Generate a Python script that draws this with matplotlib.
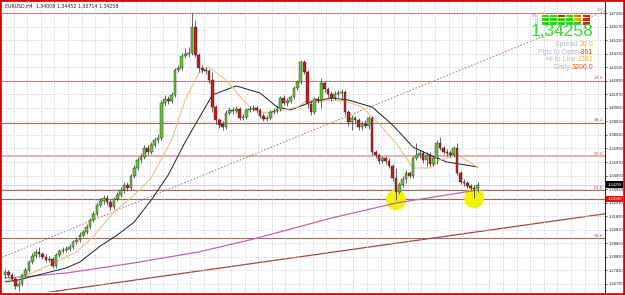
import matplotlib.pyplot as plt
from matplotlib.patches import Rectangle, Ellipse

# EURUSD H4 candles
opens = [1.2746, 1.2769, 1.2746, 1.2716, 1.2663, 1.2678, 1.2746, 1.2784, 1.2844, 1.2889,
         1.2920, 1.2904, 1.2882, 1.2859, 1.2867, 1.2814, 1.2897, 1.2927, 1.2935, 1.2942,
         1.2957, 1.2995, 1.3010, 1.3047, 1.3070, 1.3107, 1.3160, 1.3206, 1.3273, 1.3303,
         1.3326, 1.3296, 1.3258, 1.3319, 1.3349, 1.3386, 1.3424, 1.3402, 1.3492, 1.3552,
         1.3612, 1.3635, 1.3703, 1.3673, 1.3725, 1.3763, 1.3778, 1.4041, 1.4072, 1.4056,
         1.4102, 1.4290, 1.4305, 1.4395, 1.4410, 1.4418, 1.4614, 1.4403, 1.4305, 1.4290,
         1.4282, 1.4215, 1.4011, 1.3913, 1.3883, 1.3861, 1.3966, 1.3989, 1.3981, 1.3996,
         1.3928, 1.3936, 1.3989, 1.3996, 1.4004, 1.3989, 1.3943, 1.3921, 1.3928, 1.3973,
         1.3981, 1.3996, 1.4079, 1.4041, 1.4056, 1.4087, 1.4155, 1.4200, 1.4350, 1.4275,
         1.4034, 1.3973, 1.4072, 1.4064, 1.4192, 1.4147, 1.4109, 1.4079, 1.4109, 1.4117,
         1.4124, 1.3973, 1.3898, 1.3928, 1.3913, 1.3861, 1.3883, 1.3868, 1.3928, 1.3673,
         1.3650, 1.3605, 1.3627, 1.3605, 1.3567, 1.3477, 1.3371, 1.3424, 1.3469, 1.3514,
         1.3492, 1.3627, 1.3650, 1.3665, 1.3612, 1.3650, 1.3582, 1.3627, 1.3740, 1.3703,
         1.3673, 1.3665, 1.3650, 1.3703, 1.3514, 1.3447, 1.3439, 1.3417, 1.3402, 1.34008]
highs = [1.2791, 1.2784, 1.2761, 1.2731, 1.2709, 1.2761, 1.2806, 1.2859, 1.2912, 1.2942,
         1.2957, 1.2920, 1.2904, 1.2889, 1.2882, 1.2912, 1.2942, 1.2957, 1.2964, 1.2980,
         1.3010, 1.3032, 1.3070, 1.3085, 1.3130, 1.3175, 1.3228, 1.3288, 1.3326, 1.3349,
         1.3349, 1.3319, 1.3334, 1.3371, 1.3409, 1.3447, 1.3447, 1.3507, 1.3575, 1.3635,
         1.3665, 1.3725, 1.3725, 1.3748, 1.3785, 1.3808, 1.4064, 1.4102, 1.4094, 1.4124,
         1.4305, 1.4328, 1.4418, 1.4456, 1.4463, 1.4719, 1.4666, 1.4418, 1.4328, 1.4312,
         1.4297, 1.4275, 1.4026, 1.3928, 1.3906, 1.3989, 1.4011, 1.4011, 1.4019, 1.4011,
         1.3958, 1.4004, 1.4019, 1.4026, 1.4019, 1.4004, 1.3966, 1.3951, 1.3989, 1.4004,
         1.4019, 1.4094, 1.4102, 1.4079, 1.4102, 1.4170, 1.4215, 1.4365, 1.4365, 1.4290,
         1.4064, 1.4087, 1.4094, 1.4229, 1.4208, 1.4162, 1.4132, 1.4132, 1.4139, 1.4147,
         1.4139, 1.3989, 1.3951, 1.3943, 1.3928, 1.3906, 1.3913, 1.3943, 1.3943, 1.3688,
         1.3665, 1.3643, 1.3643, 1.3627, 1.3582, 1.3552, 1.3447, 1.3492, 1.3537, 1.3529,
         1.3643, 1.3740, 1.3688, 1.3680, 1.3673, 1.3673, 1.3643, 1.3763, 1.3785, 1.3718,
         1.3695, 1.3688, 1.3718, 1.3740, 1.3529, 1.3469, 1.3454, 1.3432, 1.3424, 1.34452]
lows = [1.2724, 1.2731, 1.2701, 1.2641, 1.2626, 1.2663, 1.2731, 1.2769, 1.2829, 1.2874,
        1.2882, 1.2867, 1.2844, 1.2844, 1.2799, 1.2799, 1.2882, 1.2912, 1.2920, 1.2927,
        1.2942, 1.2980, 1.2995, 1.3032, 1.3055, 1.3092, 1.3145, 1.3190, 1.3258, 1.3281,
        1.3273, 1.3236, 1.3243, 1.3303, 1.3334, 1.3364, 1.3379, 1.3386, 1.3477, 1.3537,
        1.3590, 1.3620, 1.3650, 1.3658, 1.3710, 1.3740, 1.3763, 1.4019, 1.4034, 1.4041,
        1.4087, 1.4275, 1.4290, 1.4380, 1.4388, 1.4403, 1.4388, 1.4275, 1.4267, 1.4260,
        1.4192, 1.3973, 1.3883, 1.3853, 1.3838, 1.3846, 1.3951, 1.3958, 1.3966, 1.3913,
        1.3913, 1.3921, 1.3973, 1.3981, 1.3966, 1.3928, 1.3906, 1.3906, 1.3913, 1.3958,
        1.3966, 1.3981, 1.4026, 1.4019, 1.4041, 1.4072, 1.4139, 1.4185, 1.4260, 1.4004,
        1.3951, 1.3958, 1.4041, 1.4004, 1.4124, 1.4087, 1.4056, 1.4064, 1.4087, 1.4064,
        1.3951, 1.3868, 1.3838, 1.3891, 1.3838, 1.3838, 1.3853, 1.3846, 1.3650, 1.3627,
        1.3582, 1.3590, 1.3582, 1.3552, 1.3454, 1.3311, 1.3356, 1.3409, 1.3439, 1.3477,
        1.3477, 1.3612, 1.3627, 1.3590, 1.3567, 1.3567, 1.3567, 1.3582, 1.3688, 1.3658,
        1.3643, 1.3635, 1.3635, 1.3499, 1.3432, 1.3417, 1.3402, 1.3386, 1.3326, 1.33714]
closes = [1.2769, 1.2746, 1.2716, 1.2663, 1.2678, 1.2746, 1.2784, 1.2844, 1.2889, 1.2920,
          1.2904, 1.2882, 1.2859, 1.2867, 1.2814, 1.2897, 1.2927, 1.2935, 1.2942, 1.2957,
          1.2995, 1.3010, 1.3047, 1.3070, 1.3107, 1.3160, 1.3206, 1.3273, 1.3303, 1.3326,
          1.3296, 1.3258, 1.3319, 1.3349, 1.3386, 1.3424, 1.3402, 1.3492, 1.3552, 1.3612,
          1.3635, 1.3703, 1.3673, 1.3725, 1.3763, 1.3778, 1.4041, 1.4072, 1.4056, 1.4102,
          1.4290, 1.4305, 1.4395, 1.4410, 1.4418, 1.4614, 1.4403, 1.4305, 1.4290, 1.4282,
          1.4215, 1.4011, 1.3913, 1.3876, 1.3861, 1.3966, 1.3989, 1.3981, 1.3996, 1.3928,
          1.3936, 1.3989, 1.3996, 1.4004, 1.3989, 1.3943, 1.3921, 1.3928, 1.3973, 1.3981,
          1.3996, 1.4079, 1.4041, 1.4056, 1.4087, 1.4155, 1.4200, 1.4350, 1.4275, 1.4034,
          1.3973, 1.4072, 1.4064, 1.4192, 1.4147, 1.4109, 1.4079, 1.4109, 1.4117, 1.4124,
          1.3973, 1.3898, 1.3928, 1.3913, 1.3861, 1.3883, 1.3868, 1.3928, 1.3673, 1.3650,
          1.3605, 1.3627, 1.3605, 1.3567, 1.3477, 1.3371, 1.3424, 1.3469, 1.3514, 1.3492,
          1.3627, 1.3650, 1.3665, 1.3612, 1.3650, 1.3582, 1.3627, 1.3740, 1.3703, 1.3673,
          1.3665, 1.3650, 1.3703, 1.3514, 1.3447, 1.3439, 1.3417, 1.3402, 1.3394, 1.34258]

# moving averages (bar index, price)
ma_fast_x = [0, 8, 15, 21, 25, 28, 32, 38, 43, 49, 53, 57, 60, 65, 70, 73, 77, 82, 86, 89,
             92, 96, 101, 105, 109, 115, 120, 125, 128, 133, 139]
ma_fast = [1.2701, 1.2761, 1.2844, 1.2920, 1.3010, 1.3100, 1.3221, 1.3349, 1.3477, 1.3763,
           1.4064, 1.4267, 1.4312, 1.4215, 1.4064, 1.3989, 1.3966, 1.3989, 1.4011, 1.4064,
           1.4049, 1.4064, 1.4049, 1.4011, 1.3913, 1.3740, 1.3552, 1.3552, 1.3612, 1.3650,
           1.3560]
ma_slow_x = [0, 4, 18, 22, 28, 33, 38, 43, 48, 53, 61, 68, 75, 80, 84, 90, 96, 101, 108,
             114, 120, 125, 130, 139]
ma_slow = [1.2694, 1.2709, 1.2799, 1.2844, 1.2964, 1.3047, 1.3145, 1.3311, 1.3499, 1.3748,
           1.4102, 1.4170, 1.4117, 1.4011, 1.3989, 1.4049, 1.4079, 1.4064, 1.4011, 1.3876,
           1.3710, 1.3650, 1.3597, 1.3560]
ma_long_x = [0, 5, 18, 38, 57, 72, 84, 96, 115, 139]
ma_long = [1.2724, 1.2731, 1.2761, 1.2837, 1.2920, 1.3010, 1.3092, 1.3175, 1.3288, 1.3386]

# drawn objects
ray_x = [-0.9, 176.5]
ray_y = [1.2880, 1.4734]
trend_x = [0, 176.5]
trend_y = [1.2570, 1.3207]
fib_high = 1.4719
fib_low = 1.2559
fib_levels = [0.0, 23.6, 38.2, 50.0, 61.8, 78.6]
alert_price = 1.33190
bid = 1.34258
marked_lows = [115, 138]

price_ticks = [1.47190, 1.46170, 1.45150, 1.44130, 1.43110, 1.42090, 1.41070, 1.40050,
               1.39030, 1.38010, 1.36990, 1.35970, 1.34950, 1.33930, 1.32910, 1.31890,
               1.30870, 1.29850, 1.28830, 1.27810, 1.26790]

tf_labels = ['M30', 'H4', 'D1']
tf_colors = [['g', 'g', 'r', 'g', 'o', 'r'],
             ['g', 'g', 'g', 'g', 'y', 'r'],
             ['g', 'g', 'g', 'g', 'g', 'r']]
panel_rows = [('Spread ', '20.0', '#e8c020'),
              ('Pips to Open', '-361', '#ff3c00'),
              ('Hi to Low ', '1381', '#e8c020'),
              ('Daily ', '3206.0', '#e65a00')]

W, H = 625, 295
fig = plt.figure(figsize=(W / 100, H / 100), dpi=100)
ax = fig.add_axes([2 / W, 3 / H, 603 / W, 290 / H])
ax.set_xlim(-0.9, 176.5)
ax.set_ylim(1.2618, 1.4802)

# grid
ax.set_xticks([2.5 + 4 * k for k in range(44)])
ax.set_yticks(price_ticks)
ax.grid(True, color='#c8c8c8', linestyle=(0, (2, 2)), linewidth=0.5)
ax.tick_params(axis='x', length=0, labelbottom=False)
ax.yaxis.tick_right()
ax.set_yticklabels(['%.5f' % t for t in price_ticks], family='Liberation Sans')
ax.tick_params(axis='y', direction='out', length=1.5, width=0.5, pad=1.0,
               labelsize=3.0, colors='#202020')
for s in ['left', 'top', 'bottom']:
    ax.spines[s].set_visible(False)
ax.spines['right'].set_color('#303030')
ax.spines['right'].set_linewidth(0.8)

# fibonacci levels
for lv in fib_levels:
    price = fib_high - (fib_high - fib_low) * lv / 100
    if lv == 50.0:
        ax.axhline(price, color='#e0b4b8', lw=1.5, zorder=1)
    else:
        ax.axhline(price, color='#a86868', lw=0.8, zorder=1)
    ax.text(176.0, price + 0.0004, '%.1f' % lv, fontsize=3.2, color='#a86868',
            ha='right', va='bottom')

ax.axhline(bid, color='#c0c0c0', lw=0.5, zorder=1)
ax.axhline(alert_price, color='#c85050', lw=0.8, zorder=1)

ax.plot(trend_x, trend_y, color='#a04848', lw=0.9, zorder=1)
ax.plot(ray_x, ray_y, color='#b08888', lw=0.8, linestyle=(0, (1.5, 1.5)), zorder=1)

# highlight blobs
for i in marked_lows:
    ax.add_patch(Ellipse((i, lows[i]), 5.4, 0.0145, color='#f4f400', zorder=1.5))

# moving averages
ax.plot(ma_long_x, ma_long, color='#c466a8', lw=0.9, zorder=2)
ax.plot(ma_slow_x, ma_slow, color='#202020', lw=0.7, zorder=2)
ax.plot(ma_fast_x, ma_fast, color='#e6c58a', lw=0.8, zorder=2)

# candles
x = list(range(len(closes)))
ax.vlines(x, lows, highs, color='#2a2a2a', lw=0.5, zorder=3)
colors = ['#66c23a' if c >= o else '#c01e1e' for o, c in zip(opens, closes)]
ax.bar(x, [c - o for o, c in zip(opens, closes)], bottom=opens, width=0.78,
       color=colors, edgecolor='#2a2a2a', linewidth=0.3, zorder=4)

# price boxes on the axis
for price, bg in [(bid, 'black'), (alert_price, '#e01010')]:
    ax.text(1.004, price, '%.5f' % price, transform=ax.get_yaxis_transform(),
            fontsize=2.9, family='Liberation Sans', color='white', va='center',
            ha='left', zorder=10, clip_on=False,
            bbox=dict(boxstyle='square,pad=0.35', fc=bg, ec=bg, lw=0))

# header
fig.text(5 / W, 1 - 6 / H, 'EURUSD,H4  %.5f %.5f %.5f %.5f' % (opens[-1], highs[-1], lows[-1], closes[-1]),
         fontsize=3.4, color='#202020', va='center', ha='left')

# strength panel
cmap = {'g': '#33cc22', 'r': '#e02020', 'o': '#b08000', 'y': '#e0b020'}
for r, row in enumerate(tf_colors):
    fig.text(539 / W, 1 - (16 + 3.6 * r) / H, tf_labels[r], fontsize=2.4, color='#9aa0b0',
             ha='right', va='center')
    for c, code in enumerate(row):
        fig.patches.append(Rectangle(((542 + 8.1 * c) / W, 1 - (17.3 + 3.6 * r) / H),
                                     7 / W, 2.6 / H, transform=fig.transFigure,
                                     facecolor=cmap[code], edgecolor='none', lw=0))

fig.text(593 / W, 1 - 32 / H, ('%.5f' % bid).replace('.', ','), fontsize=12.5,
         color='#33dd33', family='Liberation Sans', ha='right', va='center')

for k, (label, val, col) in enumerate(panel_rows):
    t = fig.text(593 / W, 1 - (45 + 7.4 * k) / H, val, fontsize=5, color=col,
                 family='Liberation Sans', ha='right', va='center')
    ax.annotate(label, xy=(0, 0.5), xycoords=t, fontsize=5, color='#b4bccc',
                family='Liberation Sans', ha='right', va='center')

# red frame
fig.patches.append(Rectangle((0, 0), 1, 1, transform=fig.transFigure, fill=False,
                             edgecolor='#d00000', lw=2.6))

fig.savefig('out.png', dpi=100)
